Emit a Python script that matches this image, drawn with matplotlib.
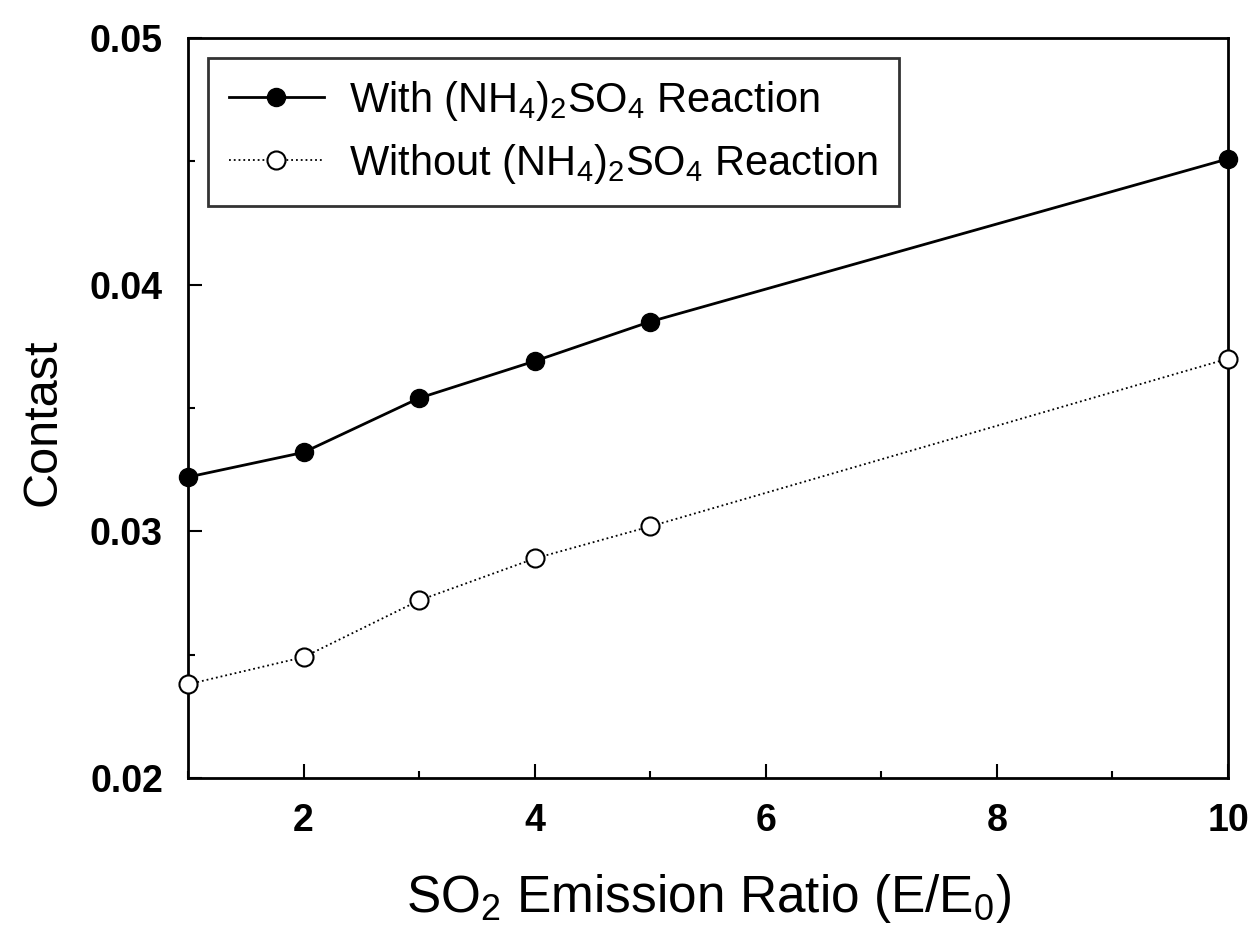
import matplotlib
matplotlib.use("Agg")
import matplotlib.pyplot as plt
from matplotlib.ticker import MultipleLocator

plt.rcParams['font.family'] = ['Liberation Sans', 'DejaVu Sans']
plt.rcParams['mathtext.fontset'] = 'custom'
plt.rcParams['mathtext.rm'] = 'Liberation Sans'
plt.rcParams['mathtext.it'] = 'Liberation Sans'

x_ratio = [1, 2, 3, 4, 5, 10]
with_reaction = [0.0322, 0.0332, 0.0354, 0.0369, 0.0385, 0.0451]
without_reaction = [0.0238, 0.0249, 0.0272, 0.0289, 0.0302, 0.0370]

label_with = r'With (NH$_4$)$_2$SO$_4$ Reaction'
label_without = r'Without (NH$_4$)$_2$SO$_4$ Reaction'

fig = plt.figure(figsize=(12.59, 9.31), dpi=100)
ax = fig.add_axes([0.1493, 0.1643, 0.8261, 0.7949])

ax.plot(x_ratio, with_reaction, '-', color='black', lw=2,
        marker='o', ms=13, mfc='black', mec='black', label=label_with, clip_on=False, zorder=3)
ax.plot(x_ratio, without_reaction, ':', color='black', lw=1.3,
        marker='o', ms=13, mfc='white', mec='black', mew=1.5, label=label_without, clip_on=False, zorder=3)

ax.set_xlim(1, 10)
ax.set_ylim(0.02, 0.05)
ax.xaxis.set_minor_locator(MultipleLocator(1))
ax.yaxis.set_minor_locator(MultipleLocator(0.005))
ax.set_xticks([2, 4, 6, 8, 10])
ax.set_yticks([0.02, 0.03, 0.04, 0.05])
ax.set_yticklabels(['0.02', '0.03', '0.04', '0.05'])
ax.tick_params(which='both', direction='in', width=1.5)
ax.tick_params(which='major', length=10, labelsize=27, pad=18)
ax.tick_params(which='minor', length=5)
for lab in ax.get_xticklabels() + ax.get_yticklabels():
    lab.set_fontweight('bold')
for s in ax.spines.values():
    s.set_linewidth(2)

ax.set_xlabel(r'SO$_2$ Emission Ratio (E/E$_0$)', fontsize=37, labelpad=24)
ax.set_ylabel('Contast', fontsize=35)
ax.yaxis.set_label_coords(-0.118, 0.481)

leg = ax.legend(loc='upper left', bbox_to_anchor=(0.019, 0.973), fontsize=30,
                frameon=True, fancybox=False, edgecolor='black', borderpad=0.5,
                handlelength=2.3, handletextpad=0.6, labelspacing=0.45, borderaxespad=0)
leg.get_frame().set_linewidth(2)

fig.savefig('out.png', dpi=100)
